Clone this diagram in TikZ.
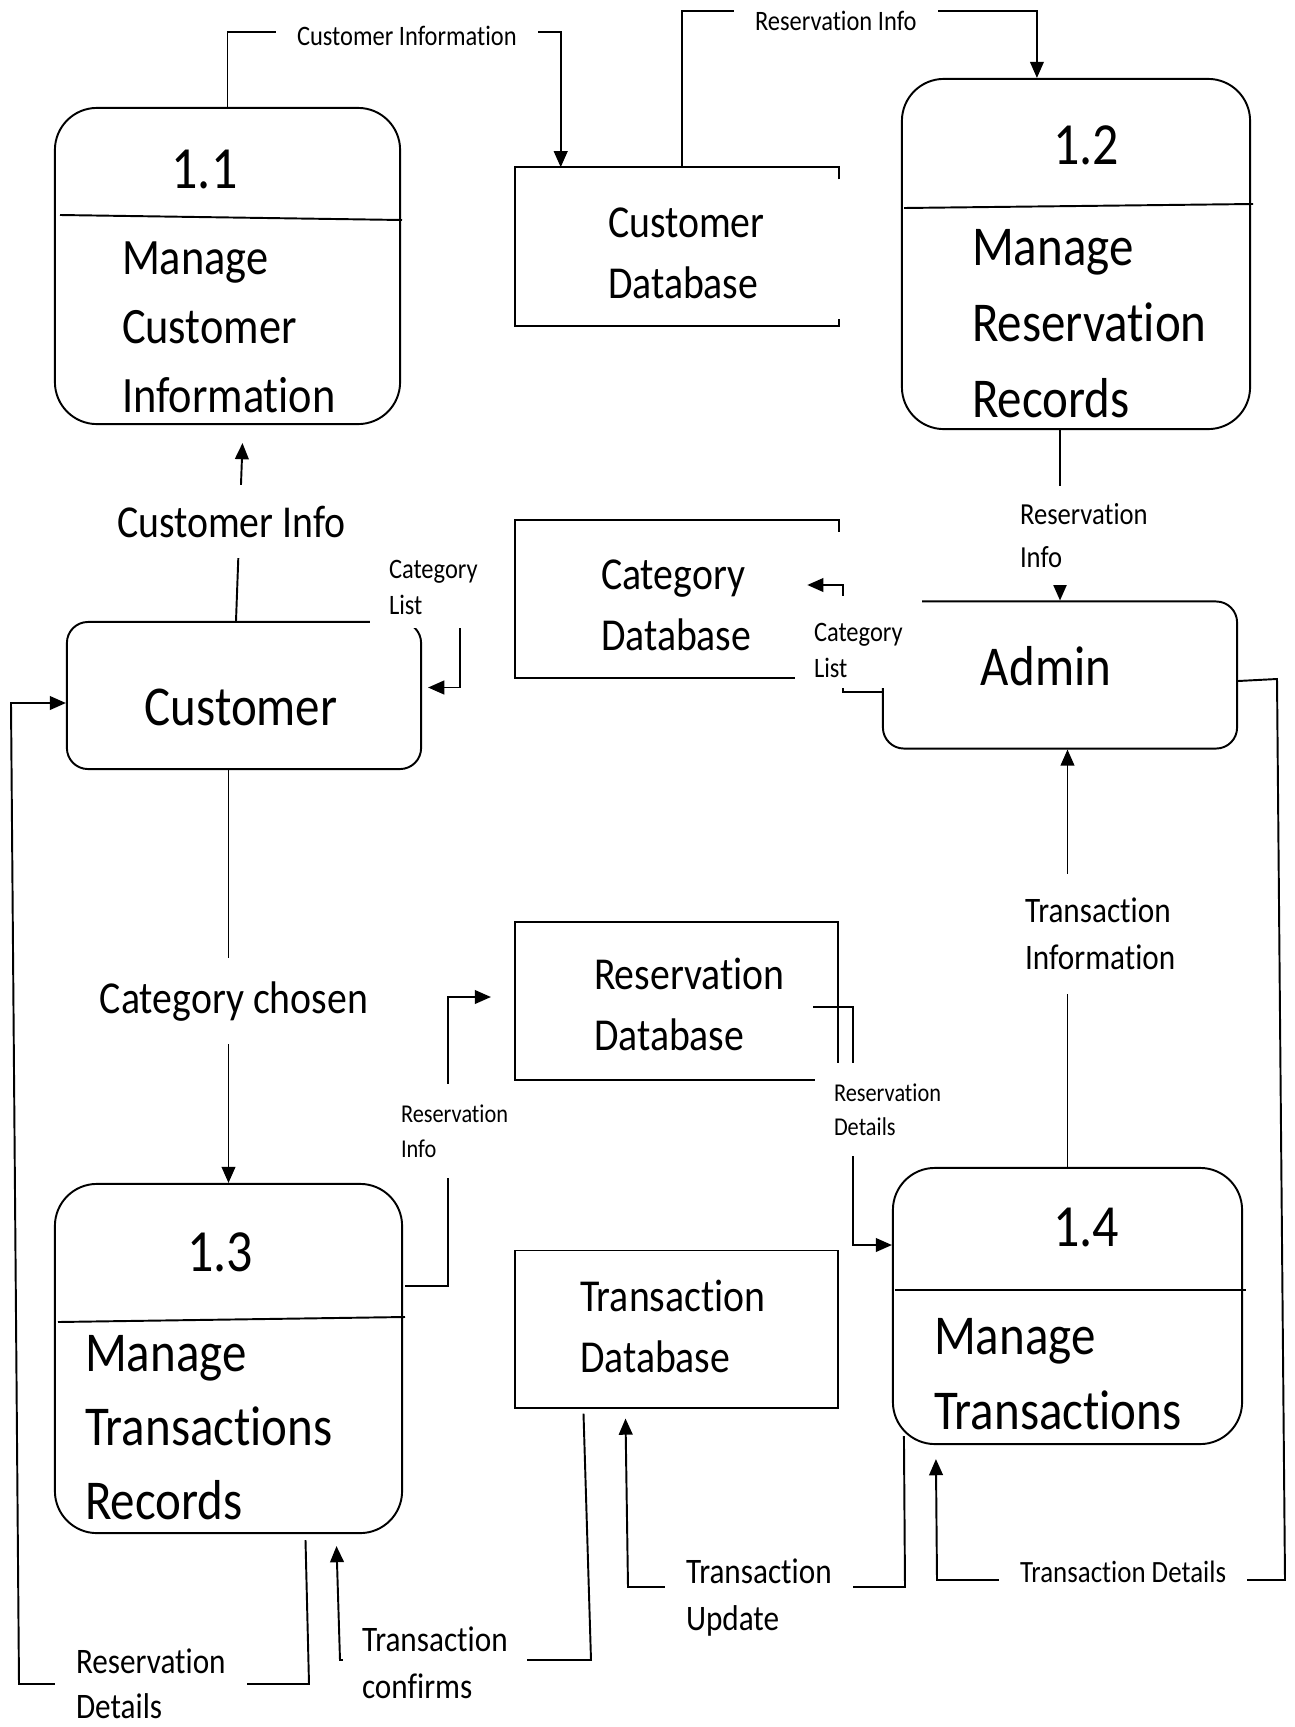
\documentclass[tikz,border=0pt]{standalone}
\usepackage{fontspec}
\setmainfont{Carlito}[FakeStretch=0.87, Ligatures=NoCommon]
\usetikzlibrary{arrows.meta,calc}

\begin{document}
\begin{tikzpicture}[x=0.01cm, y=-0.01cm,
    outline/.style={line width=0.55pt},
    proc/.style={draw, outline, rounded corners=0.42cm},
    entity/.style={draw, outline, rounded corners=0.21cm,
        minimum width=3.54cm, minimum height=1.47cm},
    store/.style={minimum width=3.23cm, minimum height=1.57cm},
    num/.style={anchor=base, font=\fontsize{17}{20}\selectfont},
    ptext/.style={anchor=text, align=left, inner sep=0pt,
        font=\fontsize{16}{21.5}\selectfont},
    etext/.style={anchor=base, font=\fontsize{16}{19}\selectfont},
    dbtext/.style={anchor=text, align=left, inner sep=0pt,
        font=\fontsize{13}{17.2}\selectfont},
    lbl/.style={anchor=text, align=left, fill=white, inner xsep=6pt, inner ysep=5pt},
    smalllbl/.style={lbl, font=\fontsize{8}{10}\selectfont},
    midlbl/.style={lbl, font=\fontsize{10.2}{13.1}\selectfont},
    biglbl/.style={lbl, font=\fontsize{13}{16}\selectfont},
    flow/.style={->, >={Triangle[length=4.6pt, width=3.9pt]}, line width=0.55pt}]

    \path[use as bounding box, fill=white] (0,0) rectangle (1295,1727);

    % Processes
    \node[proc, minimum width=3.45cm, minimum height=3.16cm] (p11) at (227.5,266) {};
    \node[proc, minimum width=3.48cm, minimum height=3.50cm] (p12) at (1076,254) {};
    \node[proc, minimum width=3.47cm, minimum height=3.49cm] (p13) at (228.5,1358.5) {};
    \node[proc, minimum width=3.49cm, minimum height=2.76cm] (p14) at (1067.5,1306) {};

    \draw[outline] (60,215) -- (402,220);
    \draw[outline] (904,208) -- (1253,204);
    \draw[outline] (58,1322) -- (405,1317);
    \draw[outline] (895,1290) -- (1246,1290);

    \node[num] (p11num) at (204.5,188) {1.1};
    \node[num] (p12num) at (1086,164) {1.2};
    \node[num] (p13num) at (220,1271) {1.3};
    \node[num] (p14num) at (1086,1246) {1.4};

    % multi-line texts sit on the baseline of their last line
    \node[ptext, font=\fontsize{14.5}{19.5}\selectfont] (p11txt) at (122,412) {Manage\\Customer\\Information};
    \node[ptext] (p12txt) at (972,417) {Manage\\Reservation\\Records};
    \node[ptext, font=\fontsize{16}{21}\selectfont] (p13txt) at (85,1519) {Manage\\Transactions\\Records};
    \node[ptext, font=\fontsize{16}{21.3}\selectfont] (p14txt) at (934,1429) {Manage\\Transactions};

    % External entities
    \node[entity] (cust) at (244,695.5) {};
    \node[entity] (admin) at (1060,675) {};
    \node[etext] (custtxt) at (241,725) {Customer};
    \node[etext] (admintxt) at (1046,685) {Admin};

    % Data stores
    \node[store] (custdb) at (677,246.5) {};
    \node[store] (catdb) at (677,599) {};
    \node[store, draw, outline] (resdb) at (676.5,1001) {};
    \node[store, draw, outline] (trdb) at (676.5,1329) {};
    \draw[outline] ($(custdb.north east)+(0,12)$) -- (custdb.north east) -- (custdb.north west)
        -- (custdb.south west) -- (custdb.south east) -- ++(0,-7);
    \draw[outline] ($(catdb.north east)+(0,12)$) -- (catdb.north east) -- (catdb.north west)
        -- (catdb.south west) -- (catdb.south east) -- ++(0,-7);

    \node[dbtext] (custdbtxt) at (608,298) {Customer\\Database};
    \node[dbtext] (catdbtxt) at (601,650) {Category\\Database};
    \node[dbtext] (resdbtxt) at (594,1050) {Reservation\\Database};
    \node[dbtext] (trdbtxt) at (580,1372) {Transaction\\Database};

    % Data flows
    \coordinate (catcust) at (460,600);
    \draw[flow] (p11.north) -- ++(0,-75) -| ($(custdb.north west)+(46,0)$);
    \draw[flow] ($(custdb.north west)+(167,0)$) -- ++(0,-156) -| ($(p12.north west)+(136,0)$);
    \draw[flow] ($(cust.north)+(-8,0)$) -- ($(p11.south)+(15,18)$);
    \draw[flow] (catcust) |- ($(cust.east)+(6,-8)$);
    \draw[flow] (cust.south -| p13.north) -- (p13.north);
    \draw[flow] ($(p13.south)+(77,6)$) -- (309,1684) -- (19,1684) -- (11,703) -- ($(cust.west)+(0,7.5)$);
    \draw[flow] (p12.south -| admin.north) -- (admin.north);
    \draw[flow] ($(admin.west)+(0,17)$) -| ($(catdb.east)+(4,-14)$) -- ($(catdb.east)+(-32,-14)$);
    \draw[flow] ($(admin.east)+(0,6)$) -- (1277,679) -- (1285,1580) -- (937,1580) -- ($(p14.south west)+(44,14)$);
    \draw[flow] (p14.north) -- (p14.north |- admin.south);
    \draw[flow] ($(resdb.east)+(-26,6)$) -| (853,1245) -- ($(p14.west)+(0,-61)$);
    \draw[flow] ($(p13.east)+(2,-72.5)$) -| (448,997) -- ($(resdb.west)+(-23,-4)$);
    \draw[flow] ($(trdb.south)+(-93,5)$) -- (591,1660) -- (340,1660) -- ($(p13.south)+(108,12)$);
    \draw[flow] ($(p14.south west)+(12,-9)$) -- (905,1587) -- (628,1587) -- ($(trdb.south)+(-51,10)$);

    % Flow labels
    \node[smalllbl] (lblci) at (297,45) {Customer Information};
    \node[smalllbl] (lblri1) at (755,31) {Reservation Info};
    \node[biglbl, inner ysep=6pt] (lblcinfo) at (117,537) {Customer Info};
    \node[smalllbl, inner xsep=5.5pt, inner ysep=4pt] (lblcl1) at (389,614) {Category\\List};
    \node[smalllbl, inner xsep=5.5pt, inner ysep=3pt] (lblcl2) at (814,677) {\rule{0pt}{10pt}Category\\List};
    \node[smalllbl, font=\fontsize{8.7}{12}\selectfont] (lblri2) at (1020,567) {Reservation\\Info};
    \node[biglbl, inner ysep=6.5pt] (lblcc) at (100,1013) {Category chosen};
    \node[midlbl, inner ysep=7pt] (lblti) at (1025,969) {Transaction\\Information};
    \node[smalllbl, font=\fontsize{7.3}{9.7}\selectfont, inner ysep=6pt] (lblri3) at (401,1157) {Reservation\\Info};
    \node[smalllbl, font=\fontsize{7.3}{9.4}\selectfont, inner xsep=5.5pt, inner ysep=6pt] (lblrd1) at (834,1135) {Reservation\\Details};
    \node[midlbl, inner xsep=5.5pt] (lbltc) at (362,1698) {Transaction\\confirms};
    \node[midlbl, font=\fontsize{10.2}{12.6}\selectfont] (lblrd2) at (76,1718) {Reservation\\Details};
    \node[midlbl] (lbltu) at (686,1630) {Transaction\\Update};
    \node[smalllbl, font=\fontsize{8.8}{11}\selectfont] (lbltd) at (1020,1582) {Transaction Details};

\end{tikzpicture}
\end{document}
